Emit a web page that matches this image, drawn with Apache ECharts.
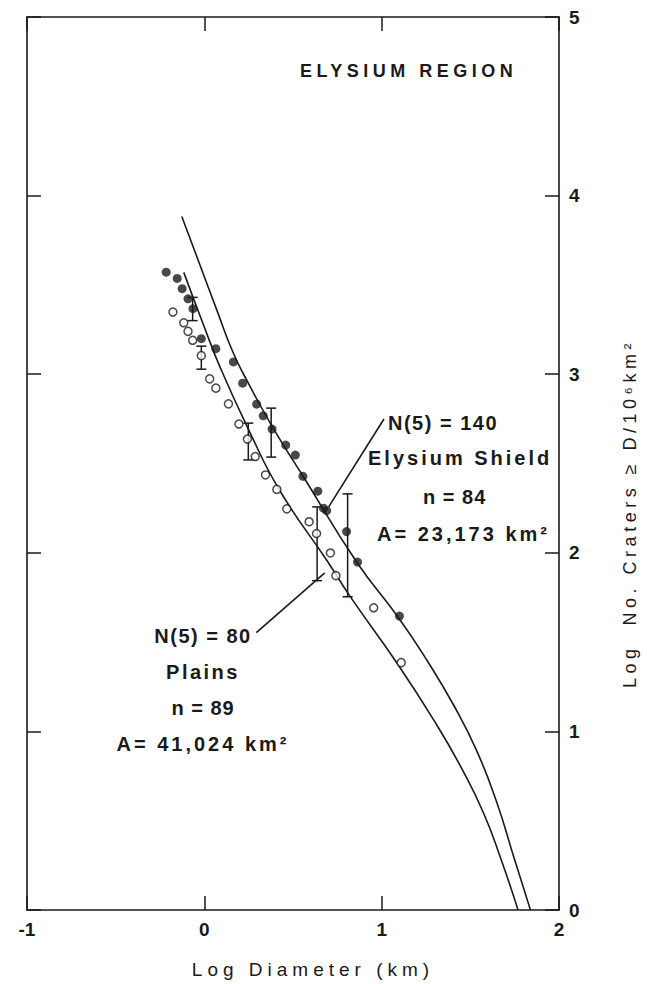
<!DOCTYPE html>
<html><head><meta charset="utf-8">
<script src="https://cdn.jsdelivr.net/npm/echarts@6/dist/echarts.min.js"></script>
<style>html,body{margin:0;padding:0;background:#fff}#c{width:647px;height:984px}</style>
</head><body><div id="c"></div>
<script>
// Elysium Shield (filled circles)
const shieldX = [-0.215,-0.153,-0.125,-0.092,-0.064,-0.017,0.065,0.164,0.216,0.295,0.332,0.382,0.459,0.513,0.556,0.640,0.672,0.690,0.802,0.864,1.100];
const shieldY = [3.571,3.536,3.479,3.422,3.367,3.199,3.143,3.069,2.950,2.832,2.767,2.693,2.603,2.547,2.428,2.345,2.250,2.236,2.119,1.948,1.646];
// Plains (open circles)
const plainsX = [-0.177,-0.116,-0.092,-0.066,-0.017,0.030,0.065,0.136,0.195,0.243,0.287,0.345,0.409,0.465,0.591,0.633,0.711,0.742,0.955,1.110];
const plainsY = [3.348,3.288,3.240,3.190,3.104,2.974,2.922,2.834,2.721,2.637,2.539,2.436,2.355,2.246,2.174,2.108,1.999,1.872,1.692,1.385];
// Fitted production curves
const shieldCurveX = [-0.127,-0.032,0.069,0.164,0.248,0.388,0.556,0.858,1.099,1.256,1.407,1.535,1.647,1.742,1.839];
const shieldCurveY = [3.883,3.631,3.363,3.117,2.950,2.698,2.430,1.950,1.631,1.397,1.145,0.894,0.609,0.307,0];
const plainsCurveX = [-0.116,-0.004,0.091,0.248,0.427,0.696,0.819,1.088,1.312,1.451,1.575,1.675,1.769];
const plainsCurveY = [3.570,3.274,3.034,2.693,2.346,1.950,1.760,1.380,1.034,0.793,0.542,0.279,0];
// Error bars
const errX = [-0.066,-0.017,0.248,0.377,0.636,0.808];
const errLow = [3.30,3.028,2.520,2.536,1.844,1.754];
const errHigh = [3.43,3.157,2.726,2.810,2.257,2.330];
// Leader lines for annotations
const shieldLeaderX = [1.013,0.701];
const shieldLeaderY = [2.749,2.257];
const plainsLeaderX = [0.679,0.293];
const plainsLeaderY = [1.888,1.553];
// Axis ticks
const xTicks = [-1,0,1,2];
const yTicks = [0,1,2,3,4,5];

const INK = '#1a1a1a';
const FONT = '"Liberation Sans", Arial, Helvetica, sans-serif';
const zip = (a,b) => a.map((v,i)=>[v,b[i]]);

const chart = echarts.init(document.getElementById('c'), null, {renderer:'svg'});
const axisCommon = {
  type:'value',
  axisLine:{show:true, onZero:false, lineStyle:{color:INK, width:1.6}},
  axisTick:{show:true, inside:true, length:14, lineStyle:{color:INK, width:1.5}},
  splitLine:{show:false}
};
const annText = (txt, x, y, align) => ({
  type:'text', x, y,
  style:{text:txt, fontFamily:FONT, fontSize:20, fontWeight:'bold', fill:INK,
         align:align||'left', textAlign:align||'left', verticalAlign:'middle', textVerticalAlign:'middle'}
});
const option = {
  animation:false,
  backgroundColor:'#fff',
  grid:{left:27, right:84, top:17, bottom:72},
  xAxis:[
    Object.assign({}, axisCommon, {position:'bottom', min:xTicks[0], max:xTicks[xTicks.length-1], interval:1,
      axisLabel:{show:true, color:INK, fontFamily:FONT, fontSize:19, fontWeight:'bold', margin:10},
      name:'Log Diameter (km)', nameLocation:'middle', nameGap:50,
      nameTextStyle:{color:INK, fontFamily:FONT, fontSize:19, padding:[0,0,0,40]}}),
    Object.assign({}, axisCommon, {position:'top', min:xTicks[0], max:xTicks[xTicks.length-1], interval:1,
      axisLabel:{show:false}})
  ],
  yAxis:[
    Object.assign({}, axisCommon, {position:'right', min:yTicks[0], max:yTicks[yTicks.length-1], interval:1,
      axisLabel:{show:true, color:INK, fontFamily:FONT, fontSize:19, fontWeight:'bold', margin:10},
      name:'Log  No. Craters \u2265 D/10\u2076km\u00b2', nameLocation:'middle', nameGap:62, nameRotate:90,
      nameTextStyle:{color:INK, fontFamily:FONT, fontSize:18, padding:[0,100,0,0]}}),
    Object.assign({}, axisCommon, {position:'left', min:yTicks[0], max:yTicks[yTicks.length-1], interval:1,
      axisLabel:{show:false}})
  ],
  graphic:[
    {type:'text', x:300, y:71, style:{text:'ELYSIUM REGION', fontFamily:FONT, fontSize:18, fontWeight:'bold', fill:INK,
      align:'left', textAlign:'left', verticalAlign:'middle', textVerticalAlign:'middle'}},
    annText('N(5) = 140', 388, 423),
    annText('Elysium Shield', 368, 458),
    annText('n = 84', 423, 497),
    annText('A= 23,173 km\u00b2', 377, 534),
    annText('N(5) = 80', 203, 636, 'center'),
    annText('Plains', 203, 672, 'center'),
    annText('n = 89', 203, 708, 'center'),
    annText('A= 41,024 km\u00b2', 203, 744, 'center')
  ],
  series:[
    {type:'line', data:zip(shieldCurveX, shieldCurveY), smooth:0.5, symbol:'none',
     lineStyle:{color:INK, width:1.6}, z:2},
    {type:'line', data:zip(plainsCurveX, plainsCurveY), smooth:0.5, symbol:'none',
     lineStyle:{color:INK, width:1.6}, z:2},
    {type:'line', data:zip(shieldLeaderX, shieldLeaderY), symbol:'none', lineStyle:{color:INK, width:1.6}, z:2},
    {type:'line', data:zip(plainsLeaderX, plainsLeaderY), symbol:'none', lineStyle:{color:INK, width:1.6}, z:2},
    {type:'custom', z:3,
     data: errX.map((x,i)=>[x, errLow[i], errHigh[i]]),
     encode:{x:0, y:[1,2]},
     renderItem(params, api){
       const x = api.value(0);
       const lo = api.coord([x, api.value(1)]);
       const hi = api.coord([x, api.value(2)]);
       const w = 5, st = {stroke:INK, lineWidth:1.5};
       return {type:'group', children:[
         {type:'line', shape:{x1:lo[0], y1:lo[1], x2:hi[0], y2:hi[1]}, style:st},
         {type:'line', shape:{x1:lo[0]-w, y1:lo[1], x2:lo[0]+w, y2:lo[1]}, style:st},
         {type:'line', shape:{x1:hi[0]-w, y1:hi[1], x2:hi[0]+w, y2:hi[1]}, style:st}
       ]};
     }},
    {type:'scatter', data:zip(plainsX, plainsY), symbol:'circle', symbolSize:8,
     itemStyle:{color:'#fff', borderColor:INK, borderWidth:1.5}, z:4},
    {type:'scatter', data:zip(shieldX, shieldY), symbol:'circle', symbolSize:9,
     itemStyle:{color:INK}, z:5}
  ]
};
chart.setOption(option);

const spacing = {
  'ELYSIUM REGION': 4.5,
  'Log Diameter (km)': 5,
  'N(5) = 140': 1.5, 'Elysium Shield': 3, 'n = 84': 1, 'A= 23,173 km\u00b2': 3,
  'N(5) = 80': 1.5, 'Plains': 2.5, 'n = 89': 1, 'A= 41,024 km\u00b2': 3,
  'Log  No. Craters \u2265 D/10\u2076km\u00b2': 4.5
};
function applySpacing(){
  document.querySelectorAll('#c svg text').forEach(t => {
    const s = spacing[t.textContent];
    if (s) t.style.letterSpacing = s + 'px';
  });
}
chart.on('finished', applySpacing);
applySpacing();
setTimeout(applySpacing, 50);
</script>
</body></html>
